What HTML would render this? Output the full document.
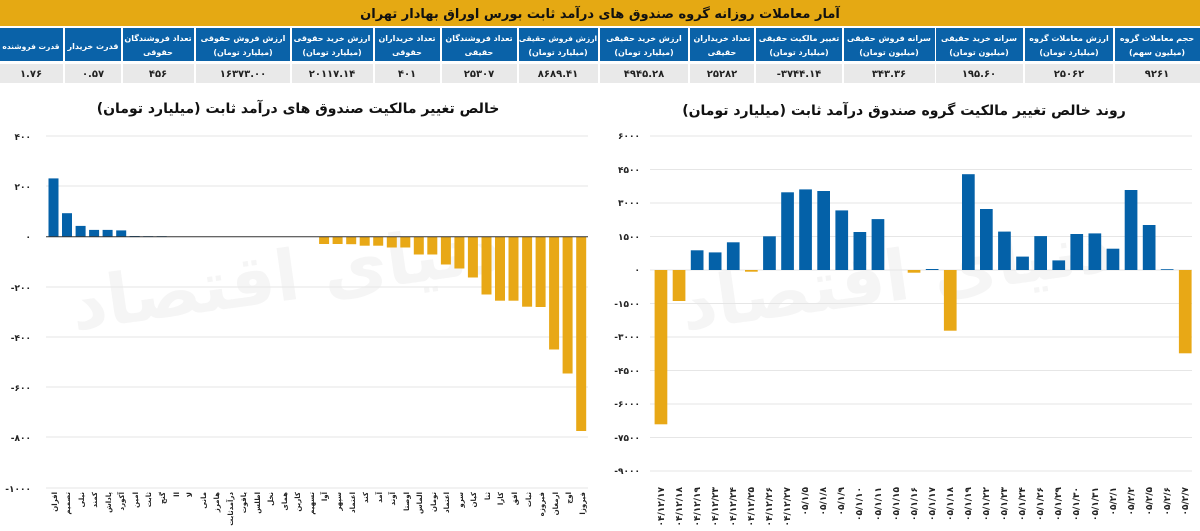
<!DOCTYPE html>
<html><head><meta charset="utf-8"><style>
body{margin:0;width:1200px;height:527px;background:#fff;overflow:hidden;font-family:"DejaVu Sans","Liberation Sans",sans-serif}
svg text{font-family:"DejaVu Sans","Liberation Sans",sans-serif;font-weight:bold}
</style></head><body>
<svg width="1200" height="527" viewBox="0 0 1200 527" xmlns="http://www.w3.org/2000/svg">
<rect x="0" y="0" width="1200" height="26" fill="#e5a913"/>
<text x="600" y="18" font-size="13" text-anchor="middle" fill="#111" direction="rtl">آمار معاملات روزانه گروه صندوق های درآمد ثابت بورس اوراق بهادار تهران</text>
<g fill="#0a62a8">
<rect x="1115" y="28" width="85" height="33"/><rect x="1025" y="28" width="88" height="33"/><rect x="936" y="28" width="87" height="33"/><rect x="844" y="28" width="91" height="33"/><rect x="756" y="28" width="86" height="33"/><rect x="690" y="28" width="64" height="33"/><rect x="600" y="28" width="88" height="33"/><rect x="519" y="28" width="79" height="33"/><rect x="442" y="28" width="75" height="33"/><rect x="375" y="28" width="65" height="33"/><rect x="292" y="28" width="81" height="33"/><rect x="196" y="28" width="94" height="33"/><rect x="123" y="28" width="71" height="33"/><rect x="65" y="28" width="56" height="33"/><rect x="0" y="28" width="63" height="33"/>
</g>
<g fill="#e9e9e9">
<rect x="1115" y="64" width="85" height="19"/><rect x="1025" y="64" width="88" height="19"/><rect x="936" y="64" width="87" height="19"/><rect x="844" y="64" width="91" height="19"/><rect x="756" y="64" width="86" height="19"/><rect x="690" y="64" width="64" height="19"/><rect x="600" y="64" width="88" height="19"/><rect x="519" y="64" width="79" height="19"/><rect x="442" y="64" width="75" height="19"/><rect x="375" y="64" width="65" height="19"/><rect x="292" y="64" width="81" height="19"/><rect x="196" y="64" width="94" height="19"/><rect x="123" y="64" width="71" height="19"/><rect x="65" y="64" width="56" height="19"/><rect x="0" y="64" width="63" height="19"/>
</g>
<g fill="#fff" font-size="8" text-anchor="middle" direction="rtl">
<text x="1157" y="41">حجم معاملات گروه</text><text x="1157" y="55">(میلیون سهم)</text>
<text x="1069" y="41">ارزش معاملات گروه</text><text x="1069" y="55">(میلیارد تومان)</text>
<text x="979" y="41">سرانه خرید حقیقی</text><text x="979" y="55">(میلیون تومان)</text>
<text x="889" y="41">سرانه فروش حقیقی</text><text x="889" y="55">(میلیون تومان)</text>
<text x="799" y="41">تغییر مالکیت حقیقی</text><text x="799" y="55">(میلیارد تومان)</text>
<text x="722" y="41">تعداد خریداران</text><text x="722" y="55">حقیقی</text>
<text x="644" y="41">ارزش خرید حقیقی</text><text x="644" y="55">(میلیارد تومان)</text>
<text x="558" y="41" font-size="7.5">ارزش فروش حقیقی</text><text x="558" y="55">(میلیارد تومان)</text>
<text x="479" y="41">تعداد فروشندگان</text><text x="479" y="55">حقیقی</text>
<text x="407" y="41">تعداد خریداران</text><text x="407" y="55">حقوقی</text>
<text x="332" y="41">ارزش خرید حقوقی</text><text x="332" y="55">(میلیارد تومان)</text>
<text x="243" y="41">ارزش فروش حقوقی</text><text x="243" y="55">(میلیارد تومان)</text>
<text x="158" y="41">تعداد فروشندگان</text><text x="158" y="55">حقوقی</text>
<text x="93" y="49">قدرت خریدار</text>
<text x="31" y="49" font-size="7.5">قدرت فروشنده</text>
</g>
<g fill="#222" font-size="10" text-anchor="middle">
<text x="1157" y="77">۹۲۶۱</text><text x="1069" y="77">۲۵۰۶۲</text><text x="979" y="77">۱۹۵.۶۰</text><text x="889" y="77">۳۴۳.۳۶</text><text x="799" y="77">-۳۷۴۴.۱۴</text><text x="722" y="77">۲۵۲۸۲</text><text x="644" y="77">۴۹۴۵.۲۸</text><text x="558" y="77">۸۶۸۹.۴۱</text><text x="479" y="77">۲۵۳۰۷</text><text x="407" y="77">۴۰۱</text><text x="332" y="77">۲۰۱۱۷.۱۴</text><text x="243" y="77">۱۶۳۷۳.۰۰</text><text x="158" y="77">۴۵۶</text><text x="93" y="77">۰.۵۷</text><text x="31" y="77">۱.۷۶</text>
</g>

<text x="290" y="300" font-size="70" fill="#f5f5f5" text-anchor="middle" transform="rotate(-8 290 300)">دنیای اقتصاد</text>
<text x="900" y="300" font-size="70" fill="#f5f5f5" text-anchor="middle" transform="rotate(-8 900 300)">دنیای اقتصاد</text>

<!-- LEFT CHART -->
<text x="298" y="113" font-size="14" text-anchor="middle" fill="#111" direction="rtl">خالص تغییر مالکیت صندوق های درآمد ثابت (میلیارد تومان)</text>
<g stroke="#e6e6e6" stroke-width="1">
<line x1="46" y1="136" x2="588" y2="136"/><line x1="46" y1="186" x2="588" y2="186"/><line x1="46" y1="287" x2="588" y2="287"/><line x1="46" y1="337" x2="588" y2="337"/><line x1="46" y1="387" x2="588" y2="387"/><line x1="46" y1="437" x2="588" y2="437"/><line x1="46" y1="488" x2="588" y2="488"/>
</g>
<g font-size="9" fill="#222" text-anchor="end">
<text x="31" y="140">۴۰۰</text><text x="31" y="190">۲۰۰</text><text x="31" y="240">۰</text><text x="31" y="291">-۲۰۰</text><text x="31" y="341">-۴۰۰</text><text x="31" y="391">-۶۰۰</text><text x="31" y="441">-۸۰۰</text><text x="31" y="492">-۱۰۰۰</text>
</g>
<g fill="#0461a8">
<rect x="48.5" y="178.4" width="10" height="58.3"/><rect x="62" y="213.2" width="10" height="23.5"/><rect x="75.6" y="225.9" width="10" height="10.8"/><rect x="89.1" y="229.9" width="10" height="6.8"/><rect x="102.6" y="229.9" width="10" height="6.8"/><rect x="116.2" y="230.4" width="10" height="6.3"/><rect x="129.7" y="236" width="10" height="0.7"/><rect x="143.2" y="236.2" width="10" height="0.5"/><rect x="156.7" y="236.2" width="10" height="0.5"/>
</g>
<g fill="#e8a816">
<rect x="319.1" y="236.7" width="10" height="7.3"/><rect x="332.6" y="236.7" width="10" height="7.3"/><rect x="346.2" y="236.7" width="10" height="7.5"/><rect x="359.7" y="236.7" width="10" height="9"/><rect x="373.2" y="236.7" width="10" height="9"/><rect x="386.8" y="236.7" width="10" height="10.8"/><rect x="400.3" y="236.7" width="10" height="10.8"/><rect x="413.8" y="236.7" width="10" height="17.8"/><rect x="427.3" y="236.7" width="10" height="17.8"/><rect x="440.9" y="236.7" width="10" height="27.8"/><rect x="454.4" y="236.7" width="10" height="31.8"/><rect x="467.9" y="236.7" width="10" height="40.8"/><rect x="481.5" y="236.7" width="10" height="57.8"/><rect x="495" y="236.7" width="10" height="64"/><rect x="508.5" y="236.7" width="10" height="64"/><rect x="522.1" y="236.7" width="10" height="70"/><rect x="535.6" y="236.7" width="10" height="70.3"/><rect x="549.1" y="236.7" width="10" height="112.8"/><rect x="562.6" y="236.7" width="10" height="136.8"/><rect x="576.2" y="236.7" width="10" height="194.3"/>
</g>
<line x1="46" y1="236.7" x2="588" y2="236.7" stroke="#333" stroke-width="1"/>
<g font-size="7" fill="#222" text-anchor="end">
<text transform="translate(57,492) rotate(-90)">افران</text>
<text transform="translate(70,492) rotate(-90)">تصمیم</text>
<text transform="translate(84,492) rotate(-90)">نیلی</text>
<text transform="translate(97,492) rotate(-90)">کمند</text>
<text transform="translate(111,492) rotate(-90)">پاداش</text>
<text transform="translate(124,492) rotate(-90)">آکورد</text>
<text transform="translate(138,492) rotate(-90)">امین</text>
<text transform="translate(151,492) rotate(-90)">ثابت</text>
<text transform="translate(165,492) rotate(-90)">گنج</text>
<text transform="translate(179,492) rotate(-90)">اا</text>
<text transform="translate(192,492) rotate(-90)">لا</text>
<text transform="translate(206,492) rotate(-90)">مانی</text>
<text transform="translate(219,492) rotate(-90)">هامرز</text>
<text transform="translate(233,492) rotate(-90)">درآمدثابت</text>
<text transform="translate(246,492) rotate(-90)">یاقوت</text>
<text transform="translate(260,492) rotate(-90)">اطلس</text>
<text transform="translate(273,492) rotate(-90)">نخل</text>
<text transform="translate(287,492) rotate(-90)">همای</text>
<text transform="translate(300,492) rotate(-90)">کارین</text>
<text transform="translate(314,492) rotate(-90)">تسهیم</text>
<text transform="translate(327,492) rotate(-90)">آوا</text>
<text transform="translate(341,492) rotate(-90)">سپهر</text>
<text transform="translate(355,492) rotate(-90)">اعتماد</text>
<text transform="translate(368,492) rotate(-90)">کند</text>
<text transform="translate(382,492) rotate(-90)">آمد</text>
<text transform="translate(395,492) rotate(-90)">آوند</text>
<text transform="translate(409,492) rotate(-90)">اوصتا</text>
<text transform="translate(422,492) rotate(-90)">الماس</text>
<text transform="translate(436,492) rotate(-90)">تومان</text>
<text transform="translate(449,492) rotate(-90)">اعتماد</text>
<text transform="translate(463,492) rotate(-90)">سرو</text>
<text transform="translate(476,492) rotate(-90)">کیان</text>
<text transform="translate(490,492) rotate(-90)">ثنا</text>
<text transform="translate(503,492) rotate(-90)">کارا</text>
<text transform="translate(517,492) rotate(-90)">افق</text>
<text transform="translate(531,492) rotate(-90)">ثبات</text>
<text transform="translate(544,492) rotate(-90)">فیروزه</text>
<text transform="translate(558,492) rotate(-90)">ارمغان</text>
<text transform="translate(571,492) rotate(-90)">اوج</text>
<text transform="translate(585,492) rotate(-90)">فیروزا</text>
</g>

<!-- RIGHT CHART -->
<text x="904" y="115" font-size="14" text-anchor="middle" fill="#111" direction="rtl">روند خالص تغییر مالکیت گروه صندوق درآمد ثابت (میلیارد تومان)</text>
<g stroke="#e6e6e6" stroke-width="1">
<line x1="650" y1="136" x2="1192" y2="136"/><line x1="650" y1="169.5" x2="1192" y2="169.5"/><line x1="650" y1="203" x2="1192" y2="203"/><line x1="650" y1="236.5" x2="1192" y2="236.5"/><line x1="650" y1="270" x2="1192" y2="270"/><line x1="650" y1="303.5" x2="1192" y2="303.5"/><line x1="650" y1="337" x2="1192" y2="337"/><line x1="650" y1="370.5" x2="1192" y2="370.5"/><line x1="650" y1="404" x2="1192" y2="404"/><line x1="650" y1="437.5" x2="1192" y2="437.5"/><line x1="650" y1="471" x2="1192" y2="471"/>
</g>
<g font-size="9" fill="#222" text-anchor="end">
<text x="640" y="139">۶۰۰۰</text><text x="640" y="173">۴۵۰۰</text><text x="640" y="206">۳۰۰۰</text><text x="640" y="240">۱۵۰۰</text><text x="640" y="273">۰</text><text x="640" y="307">-۱۵۰۰</text><text x="640" y="340">-۳۰۰۰</text><text x="640" y="374">-۴۵۰۰</text><text x="640" y="407">-۶۰۰۰</text><text x="640" y="441">-۷۵۰۰</text><text x="640" y="474">-۹۰۰۰</text>
</g>
<g fill="#0461a8">
<rect x="690.8" y="250.3" width="12.7" height="19.7"/><rect x="708.8" y="252.4" width="12.7" height="17.6"/><rect x="726.9" y="242.3" width="12.7" height="27.7"/><rect x="763.1" y="236.3" width="12.7" height="33.7"/><rect x="781.2" y="192.3" width="12.7" height="77.7"/><rect x="799.2" y="189.4" width="12.7" height="80.6"/><rect x="817.3" y="191" width="12.7" height="79"/><rect x="835.4" y="210.4" width="12.7" height="59.6"/><rect x="853.5" y="232" width="12.7" height="38"/><rect x="871.6" y="219.1" width="12.7" height="50.9"/><rect x="925.8" y="269" width="12.7" height="1"/><rect x="962" y="174.2" width="12.7" height="95.8"/><rect x="980" y="209" width="12.7" height="61"/><rect x="998.1" y="231.6" width="12.7" height="38.4"/><rect x="1016.2" y="256.6" width="12.7" height="13.4"/><rect x="1034.3" y="236.1" width="12.7" height="33.9"/><rect x="1052.4" y="260.4" width="12.7" height="9.6"/><rect x="1070.4" y="234" width="12.7" height="36"/><rect x="1088.5" y="233.4" width="12.7" height="36.6"/><rect x="1106.6" y="248.7" width="12.7" height="21.3"/><rect x="1124.7" y="190" width="12.7" height="80"/><rect x="1142.8" y="225" width="12.7" height="45"/><rect x="1160.8" y="269.2" width="12.7" height="0.8"/>
</g>
<g fill="#e8a816">
<rect x="654.6" y="270" width="12.7" height="154.3"/><rect x="672.7" y="270" width="12.7" height="31"/><rect x="745" y="270" width="12.7" height="1.7"/><rect x="907.7" y="270" width="12.7" height="2.7"/><rect x="943.9" y="270" width="12.7" height="60.7"/><rect x="1178.9" y="270" width="12.7" height="83.3"/>
</g>
<g font-size="9" fill="#222" text-anchor="end">
<text transform="translate(664,487) rotate(-90)">۰۴/۱۲/۱۷</text>
<text transform="translate(682,487) rotate(-90)">۰۴/۱۲/۱۸</text>
<text transform="translate(700,487) rotate(-90)">۰۴/۱۲/۱۹</text>
<text transform="translate(718,487) rotate(-90)">۰۴/۱۲/۲۳</text>
<text transform="translate(736,487) rotate(-90)">۰۴/۱۲/۲۴</text>
<text transform="translate(754,487) rotate(-90)">۰۴/۱۲/۲۵</text>
<text transform="translate(772,487) rotate(-90)">۰۴/۱۲/۲۶</text>
<text transform="translate(790,487) rotate(-90)">۰۴/۱۲/۲۷</text>
<text transform="translate(808,487) rotate(-90)">۰۵/۱/۵</text>
<text transform="translate(826,487) rotate(-90)">۰۵/۱/۸</text>
<text transform="translate(844,487) rotate(-90)">۰۵/۱/۹</text>
<text transform="translate(862,487) rotate(-90)">۰۵/۱/۱۰</text>
<text transform="translate(881,487) rotate(-90)">۰۵/۱/۱۱</text>
<text transform="translate(899,487) rotate(-90)">۰۵/۱/۱۵</text>
<text transform="translate(917,487) rotate(-90)">۰۵/۱/۱۶</text>
<text transform="translate(935,487) rotate(-90)">۰۵/۱/۱۷</text>
<text transform="translate(953,487) rotate(-90)">۰۵/۱/۱۸</text>
<text transform="translate(971,487) rotate(-90)">۰۵/۱/۱۹</text>
<text transform="translate(989,487) rotate(-90)">۰۵/۱/۲۲</text>
<text transform="translate(1007,487) rotate(-90)">۰۵/۱/۲۳</text>
<text transform="translate(1025,487) rotate(-90)">۰۵/۱/۲۴</text>
<text transform="translate(1043,487) rotate(-90)">۰۵/۱/۲۶</text>
<text transform="translate(1061,487) rotate(-90)">۰۵/۱/۲۹</text>
<text transform="translate(1079,487) rotate(-90)">۰۵/۱/۳۰</text>
<text transform="translate(1098,487) rotate(-90)">۰۵/۱/۳۱</text>
<text transform="translate(1116,487) rotate(-90)">۰۵/۲/۱</text>
<text transform="translate(1134,487) rotate(-90)">۰۵/۲/۲</text>
<text transform="translate(1152,487) rotate(-90)">۰۵/۲/۵</text>
<text transform="translate(1170,487) rotate(-90)">۰۵/۲/۶</text>
<text transform="translate(1188,487) rotate(-90)">۰۵/۲/۷</text>
</g>
</svg>
</body></html>
